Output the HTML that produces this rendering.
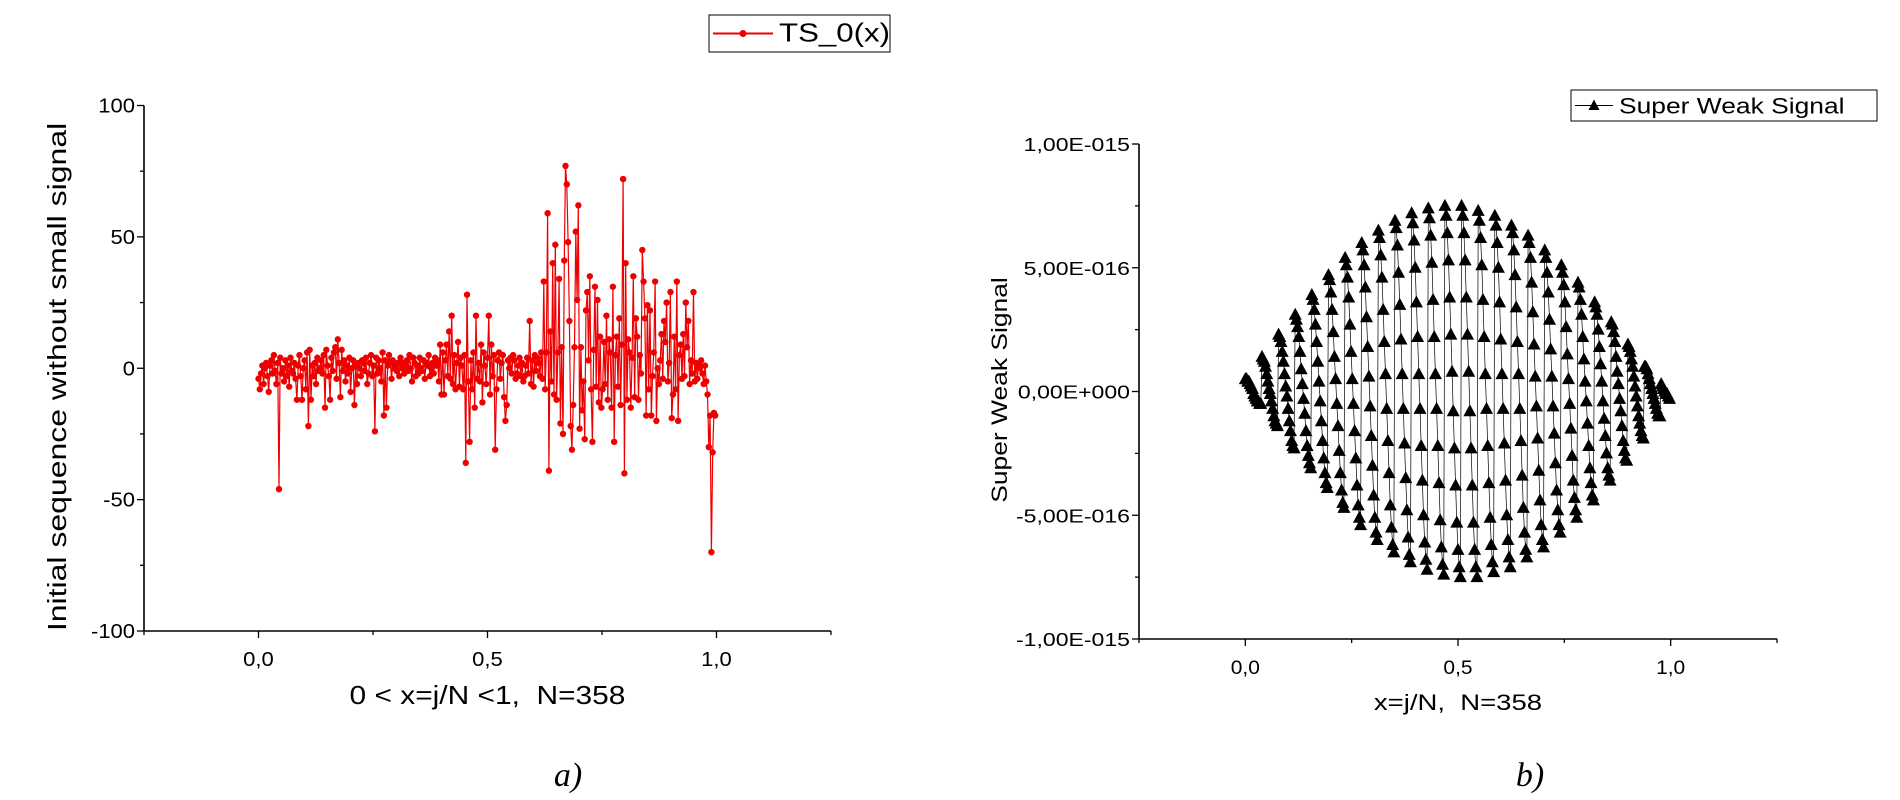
<!DOCTYPE html>
<html><head><meta charset="utf-8"><style>
html,body{margin:0;padding:0;background:#fff;}
svg{display:block;font-family:"Liberation Sans",sans-serif;}
text{white-space:pre;}
</style></head><body>
<svg id="c" width="1900" height="800" viewBox="0 0 1900 800" xmlns="http://www.w3.org/2000/svg"></svg>
<script>
// ----- data: left panel TS_0(x) -----
const leftN = 358;
const leftYTicks = [100, 50, 0, -50, -100];
const leftYTickLabels = ["100", "50", "0", "-50", "-100"];
const xTicks = [0, 0.5, 1.0];
const xTickLabels = ["0,0", "0,5", "1,0"];
const leftValues = [
-4,-8,-2,1,-6,0,2,-3,-9,1, 3,-2,5,-1,-6,2,-46,4,-2,0, -5,3,-3,1,-7,4,-1,-2,2,-4,
-12,1,5,-3,-12,0,3,-8,6,-22, 7,-12,1,-3,2,-6,4,-1,0,3, -2,5,-15,7,1,-3,-12,4,-1,6,
8,-4,11,2,-11,7,-1,3,-5,1, -2,4,-9,0,3,-14,1,-6,2,0, -3,3,2,-1,4,-6,-2,2,5,-3,
1,-24,4,-2,3,0,-5,6,-18,3, -15,1,5,2,-4,3,0,1,-1,2, -3,4,0,2,-2,1,3,-1,5,0,
-5,4,2,-3,1,-2,4,0,-1,3, -4,2,1,5,-3,0,2,-2,4,1, 3,-5,9,-10,6,-10,3,9,-3,14,
-4,20,-6,5,-8,2,10,-7,4,1, -8,5,-36,28,-5,-28,3,-8,6,-15, 20,-4,2,-5,9,-13,6,1,-6,4,
20,-10,9,-3,5,-31,-8,3,6,-4, 2,5,-11,-20,-14,3,0,4,-2,5, 3,-4,-2,1,4,-3,2,-5,-3,1,
4,-2,18,-6,3,-7,5,-1,4,2, -3,6,-4,33,-8,6,59,-39,14,-5, 40,-10,47,-12,6,34,-21,8,-25,41,
77,70,48,18,-22,-31,-14,8,52,26, 62,-23,8,-16,-5,-27,22,29,3,35, -8,-28,7,31,-7,26,-13,12,-15,-8,
10,-6,20,-12,11,6,-15,31,-28,5, 12,-7,19,-14,9,72,-40,40,-12,11, 6,-15,4,35,-11,19,12,-12,5,-2,
45,33,19,-18,24,-8,22,-18,-3,6, 33,-20,0,-6,3,13,-4,18,10,25, -5,2,29,-19,-10,12,-8,33,-20,5,
9,-4,13,-3,25,8,18,-6,3,-2, 29,-5,2,-4,1,0,3,-2,-6,1, -5,-10,-30,-18,-70,-32,-17,-18
];
// ----- data: right panel Super Weak Signal (units of 1e-17) -----
const rightYTicks = [100, 50, 0, -50, -100];
const rightYTickLabels = ["1,00E-015", "5,00E-016", "0,00E+000", "-5,00E-016", "-1,00E-015"];
const rightValues = [
5,5,4,4,3,2,1,-1,-2,-3,-4,-4,-5,-5,
14,13,12,10,7,4,1,-1,-4,-7,-10,-12,-13,-14,
23,22,20,16,12,7,2,-2,-7,-12,-16,-20,-22,-23,
31,29,26,22,16,9,3,-3,-9,-16,-22,-26,-29,-31,
39,37,33,27,20,12,4,-4,-12,-20,-27,-33,-37,-39,
47,45,40,33,24,14,5,-5,-14,-24,-33,-40,-45,-47,
54,51,46,38,27,16,5,-5,-16,-27,-38,-46,-51,-54,
60,57,51,42,30,18,6,-6,-18,-30,-42,-51,-57,-60,
65,62,55,46,33,20,7,-7,-20,-33,-46,-55,-62,-65,
69,66,59,48,35,21,7,-7,-21,-35,-48,-59,-66,-69,
72,68,61,50,36,22,7,-7,-22,-36,-50,-61,-68,-72,
74,70,63,52,37,22,7,-7,-22,-37,-52,-63,-70,-74,
75,71,64,53,38,23,8,-8,-23,-38,-53,-64,-71,-75,
75,71,64,53,38,23,8,-8,-23,-38,-53,-64,-71,-75,
73,69,62,51,37,22,7,-7,-22,-37,-51,-62,-69,-73,
71,67,60,50,36,21,7,-7,-21,-36,-50,-60,-67,-71,
67,64,57,47,34,20,7,-7,-20,-34,-47,-57,-64,-67,
63,60,54,44,32,19,6,-6,-19,-32,-44,-54,-60,-63,
57,54,48,40,29,17,6,-6,-17,-29,-40,-48,-54,-57,
51,48,43,36,26,15,5,-5,-15,-26,-36,-43,-48,-51,
44,42,37,31,22,13,4,-4,-13,-22,-31,-37,-42,-44,
36,34,31,25,18,11,4,-4,-11,-18,-25,-31,-34,-36,
28,27,24,20,14,8,3,-3,-8,-14,-20,-24,-27,-28,
19,18,16,13,10,6,2,-2,-6,-10,-13,-16,-18,-19,
10,10,9,7,5,3,1,-1,-3,-5,-7,-9,-10,-10,
3,2,1,0,-1,-1,-2,-3
];

const NS = "http://www.w3.org/2000/svg";
const svg = document.getElementById('c');
function el(tag, attrs, parent, text){
  const e = document.createElementNS(NS, tag);
  for (const k in attrs) e.setAttribute(k, attrs[k]);
  if (text !== undefined) e.textContent = text;
  (parent || svg).appendChild(e);
  return e;
}
function stretch(t, f){
  const w = t.getComputedTextLength();
  if (w > 0){ t.setAttribute('textLength', (w*f).toFixed(1)); t.setAttribute('lengthAdjust','spacingAndGlyphs'); }
}

function panel(cfg){
  const g = el('g', {});
  
  
  const sx = v => cfg.x0 + (v - (-0.25)) / 1.5 * (cfg.x1 - cfg.x0);
  const sy = v => cfg.yBot - (v - (-100)) / 200 * (cfg.yBot - cfg.yTop);
  const ya = el('line', {x1:cfg.x0, y1:cfg.yTop, x2:cfg.x0, y2:cfg.yBot, stroke:'#000','stroke-width':1.6}, g);
  
  
  const xa = el('line', {x1:cfg.x0, y1:cfg.yBot, x2:cfg.x1, y2:cfg.yBot, stroke:'#000','stroke-width':1.6}, g);
  
  
  for (let v=-100; v<=100; v+=25){
    const major = v % 50 === 0;
    el('line', {x1:cfg.x0 - (major?7:4), y1:sy(v), x2:cfg.x0, y2:sy(v), stroke:'#000','stroke-width':1.3}, g);
  }
  cfg.yTicks.forEach((v,i)=>{
    const t = el('text', {x:cfg.x0-9, y:sy(v)+7, 'text-anchor':'end','font-size':cfg.tickFs, fill:'#000'}, g, cfg.yTickLabels[i]);
    
    
    stretch(t, cfg.tickStretch);
  });
  [-0.25,0,0.25,0.5,0.75,1,1.25].forEach(v=>{
    const major = (v===0||v===0.5||v===1);
    el('line', {x1:sx(v), y1:cfg.yBot, x2:sx(v), y2:cfg.yBot+(major?7:4), stroke:'#000','stroke-width':1.3}, g);
  });
  xTicks.forEach((v,i)=>{
    const t = el('text', {x:sx(v), y:cfg.yBot+35, 'text-anchor':'middle','font-size':cfg.xTickFs, fill:'#000'}, g, xTickLabels[i]);
    
    
    stretch(t, 1.1);
  });
  const yt = el('text', {x:0, y:0, transform:`translate(${cfg.yTitleX},${cfg.yTitleY}) rotate(-90)`, 'text-anchor':'middle','font-size':cfg.titleFs, fill:'#000'}, g, cfg.yTitle);
  
  
  stretch(yt, cfg.yTitleStretch);
  const xt = el('text', {x:sx(0.5), y:cfg.xTitleY, 'text-anchor':'middle','font-size':cfg.titleFs, fill:'#000'}, g, cfg.xTitle);
  
  
  stretch(xt, cfg.xTitleStretch);
  const vals = cfg.values;
  let d = '';
  vals.forEach((v,j)=>{ d += (j?'L':'M') + sx(j/leftN).toFixed(1) + ' ' + sy(v*cfg.scale).toFixed(1); });
  const line = el('path', {d:d, fill:'none', stroke:cfg.color, 'stroke-width':cfg.lw}, g);
  
  
  vals.forEach((v,j)=>{
    const x = sx(j/leftN), y = sy(v*cfg.scale);
    let m;
    if (cfg.marker === 'dot'){
      m = el('circle', {cx:x, cy:y, r:3.2, fill:cfg.color}, g);
    } else {
      m = el('polygon', {points:`${x},${y-7} ${x-6.5},${y+5} ${x+6.5},${y+5}`, fill:cfg.color}, g);
    }
    
    
  });
  const L = cfg.legend;
  const lg = el('g', {}, g);
  
  
  el('rect', {x:L.x, y:L.y, width:L.w, height:L.h, fill:'#fff', stroke:'#000','stroke-width':1}, lg);
  const my = L.y + L.h/2;
  el('line', {x1:L.x+4, y1:my, x2:L.x+L.sw, y2:my, stroke:cfg.color,'stroke-width':cfg.marker==='dot'?2:1}, lg);
  if (cfg.marker==='dot') el('circle', {cx:L.x+4+(L.sw-4)/2, cy:my, r:3.5, fill:cfg.color}, lg);
  else { const cx=L.x+4+(L.sw-4)/2; el('polygon', {points:`${cx},${my-6} ${cx-5.5},${my+4.5} ${cx+5.5},${my+4.5}`, fill:cfg.color}, lg); }
  const lt = el('text', {x:L.x+L.sw+6, y:my+8, 'font-size':L.fs, fill:'#000'}, lg, L.text);
  
  
  stretch(lt, L.st);
  const cap = el('text', {x:cfg.capX, y:786, 'font-family':'"Liberation Serif",serif','font-style':'italic','font-size':34,'text-anchor':'middle', fill:'#000'}, g, cfg.caption);
  
  
}

panel({name:'left-chart', x0:144, x1:831, yTop:105.5, yBot:631, values:leftValues, scale:1,
  yTicks:leftYTicks, yTickLabels:leftYTickLabels, tickFs:20, tickStretch:1.1, xTickFs:20, titleFs:26,
  yTitle:'Initial sequence without small signal', yTitleX:66, yTitleY:377, yTitleStretch:1.23,
  xTitle:'0 < x=j/N <1,  N=358', xTitleY:704, xTitleStretch:1.15, color:'#ee0000', lw:1.2, marker:'dot', seriesName:'ts0',
  legend:{x:709, y:15, w:181, h:37, sw:64, fs:26, st:1.2, text:'TS_0(x)'}, caption:'a)', capX:568});

panel({name:'right-chart', x0:1139, x1:1777, yTop:144, yBot:639, values:rightValues, scale:1,
  yTicks:rightYTicks, yTickLabels:rightYTickLabels, tickFs:18, tickStretch:1.28, xTickFs:19, titleFs:22,
  yTitle:'Super Weak Signal', yTitleX:1007, yTitleY:390, yTitleStretch:1.2,
  xTitle:'x=j/N,  N=358', xTitleY:710, xTitleStretch:1.25, color:'#000', lw:0.7, marker:'tri', seriesName:'super-weak-signal',
  legend:{x:1571, y:90, w:306, h:31, sw:42, fs:22, st:1.2, text:'Super Weak Signal'}, caption:'b)', capX:1530});
</script>
</body></html>
